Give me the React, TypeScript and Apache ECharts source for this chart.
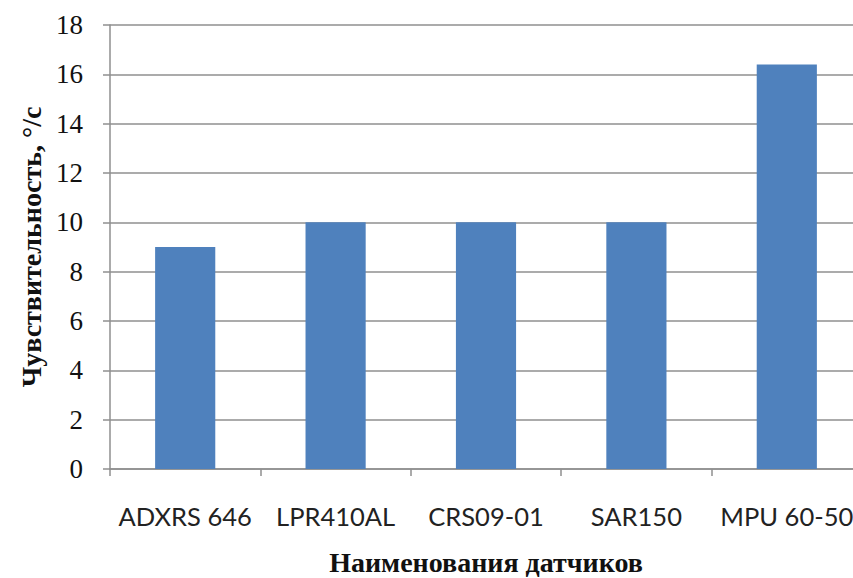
import React, { useEffect, useRef } from "react";
import * as echarts from "echarts";

// Sensor models and their sensitivity (°/s)
const sensors = ["ADXRS 646", "LPR410AL", "CRS09-01", "SAR150", "MPU 60-50"];
const sensitivity = [9, 10, 10, 10, 16.4];
const yTicks = { min: 0, max: 18, interval: 2 };

export default function App() {
  const ref = useRef<HTMLDivElement>(null);

  useEffect(() => {
    if (!ref.current) return;
    const chart = echarts.init(ref.current, undefined, { renderer: "svg" });
    const gridColor = "#8f8f8f";
    const nameStyle = {
      fontFamily: "Liberation Serif",
      fontWeight: "bold",
      fontSize: 28,
      color: "#111",
    };
    chart.setOption({
      animation: false,
      backgroundColor: "#ffffff",
      grid: { left: 110, top: 25, height: 444, width: 752, outerBoundsMode: "none", containLabel: false },
      xAxis: {
        type: "category",
        data: sensors,
        name: "Наименования датчиков",
        nameLocation: "middle",
        nameGap: 79,
        nameTextStyle: nameStyle,
        axisLine: { lineStyle: { color: gridColor, width: 1.5 } },
        axisTick: { show: true, length: 7, alignWithLabel: false, lineStyle: { color: gridColor, width: 1.5 } },
        axisLabel: {
          fontFamily: "Lato",
          fontSize: 25.5,
          color: "#222",
          margin: 34,
          interval: 0,
        },
      },
      yAxis: {
        type: "value",
        min: yTicks.min,
        max: yTicks.max,
        interval: yTicks.interval,
        name: "Чувствительность, °/с",
        nameLocation: "middle",
        nameGap: 64,
        nameTextStyle: nameStyle,
        axisLine: { show: true, lineStyle: { color: gridColor, width: 1.5 } },
        axisTick: { show: true, length: 7, lineStyle: { color: gridColor, width: 1.5 } },
        axisLabel: {
          fontFamily: "Liberation Serif",
          fontSize: 27,
          color: "#111",
          margin: 27,
        },
        splitLine: { show: true, lineStyle: { color: gridColor, width: 1.5 } },
      },
      series: [
        {
          type: "bar",
          data: sensitivity,
          barWidth: "40%",
          itemStyle: { color: "#4f81bd" },
        },
      ],
    });
    return () => chart.dispose();
  }, []);

  return (
    <div
      ref={ref}
      style={{ position: "fixed", left: 0, top: 0, width: 853, height: 578, background: "#fff" }}
    />
  );
}
